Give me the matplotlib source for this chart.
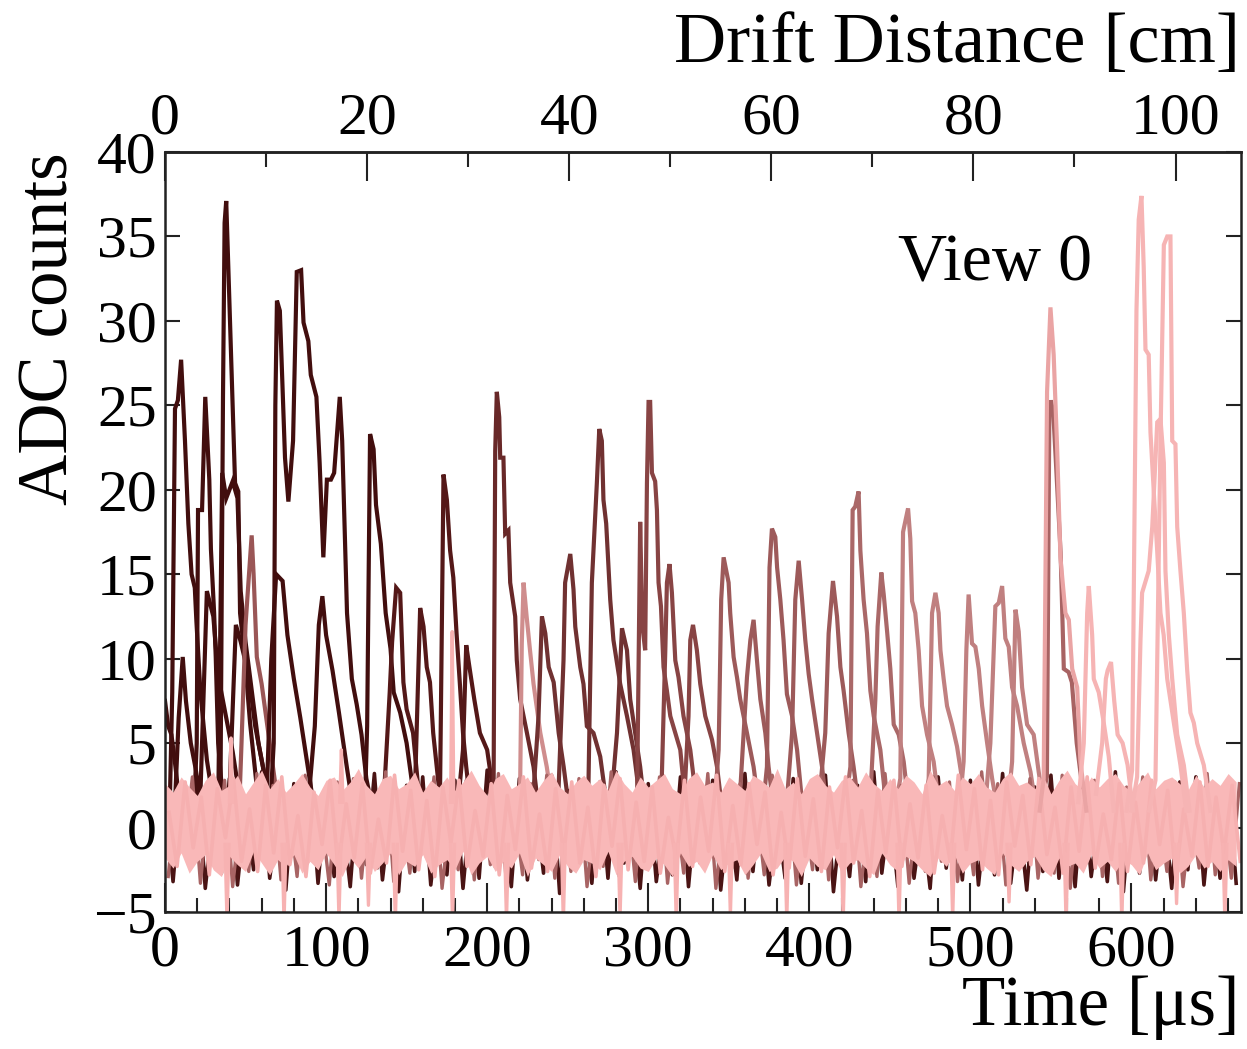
import numpy as np
import matplotlib
matplotlib.use("Agg")
import matplotlib.pyplot as plt

# ---------------- data ----------------
t_max = 668.0            # time axis range [us]
cm_per_us = 0.1594       # drift distance per microsecond (top axis)

# individual waveform pulses: time [us], ADC counts
w00_t = [0, 2, 4, 6, 9]
w00_v = [7.5, 6.0, 5.5, 4.0, 1.5]
w01_t = [3, 4.5, 6.2, 8, 10, 12.4, 14.5, 16.5, 18.5, 19.5, 22, 26, 30]
w01_v = [1.5, 8, 24.8, 25.3, 27.7, 22.9, 18, 15, 14.2, 12.2, 8, 4, 1.5]
w02_t = [6, 8.5, 11, 13, 16, 19, 23]
w02_v = [1.0, 6.5, 10.1, 7.5, 5.0, 3.5, 1.0]
w03_t = [18, 19.7, 20.5, 23, 25, 27.5, 28.5, 30.5, 31.5, 33, 36]
w03_v = [1, 5, 18.8, 18.8, 25.5, 20.6, 16.5, 12.7, 10.1, 5, 1.5]
w04_t = [22, 26, 30, 33, 37, 42, 46]
w04_v = [2, 14, 12.5, 9, 7, 4.5, 2]
w05_t = [33, 34.5, 36, 37, 38, 39.3, 41.4, 43.5, 45.5, 46.6, 49.5, 52.8, 58]
w05_v = [1, 3, 25.5, 35.8, 37.1, 33.2, 26.8, 20.4, 19.9, 12.7, 10.1, 6.2, 1.5]
w06_t = [33, 35.5, 38, 42, 45, 47, 50, 54, 58, 63]
w06_v = [1, 21, 19.5, 20.5, 19.5, 14, 11, 8, 5, 2.5]
w07_t = [40, 44, 47, 52, 56, 60, 64]
w07_v = [2, 12, 11, 9, 6, 4, 2]
w08_t = [46, 47.5, 50, 53.8, 55, 57, 60, 65, 70]
w08_v = [1, 5, 12, 17.3, 15, 10.1, 8.5, 5, 1.5]
w09_t = [65.5, 67.5, 68.5, 69.5, 71.3, 74.5, 76.6, 79.5, 81.8, 84.5, 86, 89, 90.5,
         94, 96, 98.3, 100.5, 103, 105, 108.5, 110, 111.8, 113, 116, 119, 122, 125, 129]
w09_v = [1.5, 5, 25, 31.2, 30.6, 21.9, 19.3, 22.9, 32.9, 33, 29.9, 28.8, 26.8,
         25.5, 21.6, 16, 20.6, 20.6, 21, 25.5, 22.9, 16.8, 12.7, 8.8, 7.3, 5.5, 2.9, 1]
w10_t = [63, 66, 69, 73, 76, 80, 84, 88, 92]
w10_v = [1.5, 10, 15, 14.6, 11.4, 8.8, 6.5, 4, 1.5]
w11_t = [89, 93, 95.5, 97.7, 100, 104, 108, 113, 117]
w11_v = [1.5, 6, 12, 13.7, 11.4, 9.3, 6.8, 3.5, 1]
w12_t = [124, 125.5, 127.3, 129.5, 131, 134, 137, 140, 142, 146, 150, 155]
w12_v = [1, 6, 23.3, 22.4, 19.1, 16.8, 12.7, 10.6, 8, 6.8, 5, 1.5]
w13_t = [136, 139.5, 141, 143.5, 146, 148, 150, 154, 156, 158]
w13_v = [2, 8, 11, 14.2, 13.9, 8.6, 7, 5.6, 3.6, 1.5]
w14_t = [154, 155.3, 158.4, 160.5, 162.5, 164.5, 166.5, 169.8, 172]
w14_v = [1, 2.6, 13, 11.9, 9.5, 8.6, 5.6, 2.6, 1]
w15_t = [169.5, 170.8, 172.9, 175, 177, 179, 181, 183, 185, 187, 190]
w15_v = [1, 2.6, 20.9, 19.4, 16.4, 14.8, 11.5, 8.6, 5.6, 3.6, 1]
w16_t = [182, 185, 187, 189, 192, 195.5, 200, 203, 206]
w16_v = [1.5, 4.6, 10.8, 9.5, 7.6, 5.6, 4.6, 2.6, 1]
w17_t = [202.5, 204, 205, 206, 207.5, 208.1, 210.1, 211.2, 213.2, 214.3, 217.4,
         218.4, 220.5, 224.7, 228.8, 232]
w17_v = [1, 2.6, 22.3, 25.8, 24.3, 21.9, 21.9, 17.4, 17.6, 14.5, 12.5,
         9.9, 7.6, 5.6, 3.6, 1]
w18_t = [219, 220.5, 221.5, 222.6, 224.5, 226.6, 228.8, 233, 237, 241]
w18_v = [1, 2.6, 10.9, 14.5, 12.5, 10.5, 8.5, 5.6, 3.6, 1]
w19_t = [228, 231.9, 234, 236.1, 238.2, 241.3, 244.4, 247.5, 251]
w19_v = [1, 6.6, 12.5, 11.5, 9.5, 8.6, 5.6, 3.6, 1]
w20_t = [244, 247.4, 248.4, 251.6, 253.6, 254.7, 257.8, 259.8, 261.9, 266, 270.2, 274]
w20_v = [1.5, 9.9, 14.5, 16.2, 14.1, 11.9, 9.5, 8.5, 6, 5.6, 4.2, 1.5]
w21_t = [261, 262.9, 265, 266, 268.1, 269.6, 271.2, 272.2, 273.9, 276.4, 278.4,
         282.6, 286.8, 290.9, 295]
w21_v = [1, 2.6, 14.5, 16.4, 20.4, 23.6, 22.9, 19.4, 18, 13.5, 11.1,
         8.5, 6.6, 4.6, 1.5]
w22_t = [277, 280.6, 283.7, 286.8, 288.8, 291.9, 295, 298]
w22_v = [1.5, 5.6, 11.8, 10.5, 7.6, 5.6, 3.6, 1]
w23_t = [293, 295, 296.3, 298.1, 299.2, 300.2, 301.2, 302.3, 304.3, 305.4, 306.4,
         307.9, 309.5, 311.6, 313.7, 316.8, 319.9, 323]
w23_v = [1, 18.1, 12, 10.5, 20.4, 25.2, 25.2, 21, 20.5, 18.8, 14.5,
         13.1, 9.5, 8.1, 6.6, 5.6, 4.6, 1.5]
w24_t = [308, 310.6, 311.6, 313.2, 314.7, 316.8, 318.8, 321.9, 326.1, 330]
w24_v = [1.5, 10.5, 14.5, 15.6, 13.9, 9.9, 8.9, 6.6, 4.6, 1.5]
w25_t = [322, 325, 326.1, 327.8, 330.2, 332.3, 335.4, 339.6, 342.7, 346]
w25_v = [1, 6.6, 11.1, 12, 10.5, 8.5, 6.6, 5.2, 3.6, 1]
w26_t = [341, 343.7, 345.3, 346.8, 349.9, 350.9, 353, 355.1, 357.1, 361.3, 365.4, 369]
w26_v = [1, 4.6, 13.5, 16, 14.5, 12.7, 10.1, 8.9, 7.6, 5.6, 3.6, 1]
w27_t = [357, 361.3, 363.4, 365.4, 367.5, 369.6, 372.7, 374.7, 378]
w27_v = [2, 8.9, 11.1, 12.3, 9.9, 7.6, 5.6, 3.6, 1]
w28_t = [371, 373.7, 375.3, 376.8, 378.9, 380, 382, 384, 386.1, 389.3, 392.4, 396]
w28_v = [1, 3.6, 15.4, 17.7, 17.2, 15.4, 13.5, 11.1, 7.9, 6.6, 4.6, 1]
w29_t = [386, 389.3, 391.3, 393.4, 395.5, 397.5, 399.6, 401.7, 404.8, 407.9, 411]
w29_v = [1.5, 5.6, 13.5, 15.8, 13.5, 11.1, 9.1, 7.6, 5.6, 3.6, 1]
w30_t = [406, 409.9, 412, 414.7, 417.2, 419.3, 421.3, 424.4, 427.5, 431]
w30_v = [1.5, 5.6, 11.5, 14.6, 12.5, 9.5, 8.1, 5.6, 3.6, 1]
w31_t = [422, 425.5, 426.9, 428.5, 430.6, 431.7, 433.7, 435.8, 437.9, 440, 444.1, 448]
w31_v = [1, 3.6, 18.8, 19, 19.9, 16.4, 13.5, 11.5, 8.1, 6.6, 4.6, 1]
w32_t = [438, 441, 442.4, 444.7, 446.2, 448.3, 450.3, 452.4, 455.5, 458.6, 462]
w32_v = [2, 7.6, 11.9, 15.1, 13.8, 11.6, 9.4, 6.1, 5.5, 3.9, 1]
w33_t = [453, 456.5, 458.2, 461.3, 462.7, 463.8, 465.8, 467.9, 470, 473.1, 477.2, 481]
w33_v = [1, 2.9, 17.5, 18.9, 17.1, 13.4, 12.7, 10.5, 7.2, 5.5, 3.9, 1]
w34_t = [471, 474.1, 476.2, 478.3, 480.3, 481.4, 483.4, 485.5, 488.6, 491.7, 494.8, 498]
w34_v = [1, 2.9, 12.7, 13.9, 12.7, 10.5, 8.8, 7.2, 6.1, 4.8, 2.9, 1]
w35_t = [493, 495.8, 497.5, 498.9, 501, 503.1, 505.2, 507.3, 510.4, 513.5, 517]
w35_v = [1, 3.9, 10.5, 13.8, 10.9, 10.7, 9.4, 7.2, 5, 2.9, 1]
w36_t = [509, 512.4, 515.5, 517.6, 519.7, 521.7, 523.8, 525.9, 529, 533.1, 537.3, 541]
w36_v = [1, 5, 13.1, 13.3, 14.3, 11.2, 10.7, 8.3, 7.2, 5, 3.3, 1]
w37_t = [523, 525.9, 528, 530, 532.1, 535.2, 539.3, 542.4, 546]
w37_v = [1, 3.9, 12.9, 11.6, 8.3, 6.1, 5.5, 3.3, 1]
w38_t = [543, 547.5, 549, 550, 551.5, 553, 556, 558, 561, 563, 566, 570]
w38_v = [1, 3, 24.5, 25.3, 24.5, 21.8, 16.3, 9.4, 9.2, 8.6, 5, 2]
w39_t = [543, 545.5, 547.6, 549.7, 551.7, 553.8, 555.9, 559, 561.1, 563.2, 566.3, 568.3, 572]
w39_v = [1, 2.9, 25.8, 30.8, 28, 22.6, 16, 12.7, 12.3, 9.4, 8.3, 3.9, 1]
w40_t = [567, 570.4, 572.5, 573.5, 575.6, 576.6, 579.7, 582.8, 585.9, 589]
w40_v = [1.5, 5, 12.7, 14.3, 11.4, 8.8, 8, 6.2, 4.2, 1]
w41_t = [578, 581.8, 584.1, 585.2, 587.3, 589.3, 591.4, 594.5, 597.6, 601]
w41_v = [2, 5, 8.8, 9.3, 9.8, 7.5, 5.5, 5, 3.7, 1]
w42_t = [597, 600.4, 603.1, 604.5, 606.2, 607.6, 608.7, 610.7, 611.8, 613.9, 615.9,
         618, 620, 622.2, 626.3, 630.4, 634]
w42_v = [1, 3.4, 30.6, 36, 37.4, 33.2, 28.3, 28, 23.4, 19.8, 16.5,
         12.7, 11.4, 8.8, 6.2, 3.7, 1]
w43_t = [600, 603.5, 605.6, 606.6, 610.7, 612.9, 616, 618, 620.1, 621.1, 623.2,
         625.3, 628.4, 632.5, 636]
w43_v = [1, 3, 11.1, 13.9, 15.2, 17.8, 24, 24.2, 21.6, 15.2, 11.4,
         8.8, 5.5, 3.7, 1]
w44_t = [611, 614.9, 618, 620.1, 622.2, 624.2, 625.3, 627.3, 628.4, 630.4, 632.5,
         634.6, 636.6, 638.7, 640.8, 644.9, 649]
w44_v = [1, 2.8, 22.9, 34.5, 35, 35, 22.9, 22.7, 17.8, 15.2, 12.7,
         9.3, 6.8, 6.2, 5, 3.7, 1]

waveforms = [(w00_t, w00_v), (w01_t, w01_v), (w02_t, w02_v), (w03_t, w03_v),
             (w04_t, w04_v), (w05_t, w05_v), (w06_t, w06_v), (w07_t, w07_v),
             (w08_t, w08_v), (w09_t, w09_v), (w10_t, w10_v), (w11_t, w11_v),
             (w12_t, w12_v), (w13_t, w13_v), (w14_t, w14_v), (w15_t, w15_v),
             (w16_t, w16_v), (w17_t, w17_v), (w18_t, w18_v), (w19_t, w19_v),
             (w20_t, w20_v), (w21_t, w21_v), (w22_t, w22_v), (w23_t, w23_v),
             (w24_t, w24_v), (w25_t, w25_v), (w26_t, w26_v), (w27_t, w27_v),
             (w28_t, w28_v), (w29_t, w29_v), (w30_t, w30_v), (w31_t, w31_v),
             (w32_t, w32_v), (w33_t, w33_v), (w34_t, w34_v), (w35_t, w35_v),
             (w36_t, w36_v), (w37_t, w37_v), (w38_t, w38_v), (w39_t, w39_v),
             (w40_t, w40_v), (w41_t, w41_v), (w42_t, w42_v), (w43_t, w43_v),
             (w44_t, w44_v)]

# baseline noise (sampled every 5 us), estimated from the noise band
noise_step = 5.0
pink_hi = [2.6, 2.1, 3.0, 2.4, 1.9, 2.8, 3.3, 2.2, 2.5, 3.1,
           2.0, 2.7, 3.4, 2.3, 2.9, 2.1, 2.6, 3.2, 2.4, 1.9,
           2.8, 3.0, 2.2, 2.7, 3.5, 2.5, 2.0, 2.9, 3.1, 2.3,
           2.6, 3.3, 2.1, 2.8, 2.4, 3.0, 2.2, 2.7, 3.4, 2.5,
           1.9, 2.9, 3.2, 2.3, 2.6, 3.0, 2.1, 2.8, 3.3, 2.4,
           2.0, 2.7, 3.1, 2.5, 2.9, 2.2, 3.4, 2.6, 2.1, 3.0,
           2.4, 2.8, 3.2, 2.3, 2.0, 2.9, 3.3, 2.5, 2.7, 2.1,
           3.0, 2.6, 2.2, 3.1, 2.8, 2.4, 3.5, 2.3, 2.7, 2.0,
           2.9, 3.2, 2.5, 2.1, 2.8, 3.0, 2.4, 3.3, 2.6, 2.2,
           2.9, 2.3, 3.1, 2.7, 2.0, 3.4, 2.5, 2.8, 2.2, 3.0,
           2.6, 3.2, 2.4, 2.1, 2.9, 3.3, 2.5, 2.7, 2.3, 3.1,
           2.0, 2.8, 3.4, 2.6, 2.2, 3.0, 2.4, 2.9, 3.2, 2.5,
           2.1, 2.7, 3.3, 2.3, 2.8, 3.0, 2.6, 2.2, 3.1, 2.4,
           2.9, 2.5, 3.2, 2.7]
pink_lo = [-1.8, -2.4, -1.5, -2.7, -2.0, -1.6, -2.5, -2.9, -1.7, -2.2,
           -2.6, -1.4, -2.1, -2.8, -1.9, -2.3, -1.6, -2.7, -2.0, -2.5,
           -1.5, -2.2, -2.9, -1.8, -2.4, -1.7, -2.6, -2.1, -1.5, -2.8,
           -2.0, -2.3, -1.6, -2.7, -2.2, -1.9, -2.5, -1.4, -2.8, -2.1,
           -1.7, -2.6, -2.0, -2.4, -1.5, -2.9, -1.8, -2.2, -2.6, -1.6,
           -2.3, -2.7, -1.9, -2.1, -2.5, -1.4, -2.8, -2.0, -1.7, -2.4,
           -2.6, -1.8, -2.2, -2.9, -1.5, -2.3, -2.0, -2.7, -1.6, -2.5,
           -2.1, -1.9, -2.8, -2.2, -1.5, -2.6, -2.4, -1.7, -2.0, -2.9,
           -1.8, -2.3, -2.5, -1.6, -2.7, -2.1, -1.9, -2.4, -2.8, -1.5,
           -2.2, -2.6, -1.7, -2.0, -2.5, -2.9, -1.8, -2.3, -1.6, -2.7,
           -2.1, -1.9, -2.4, -2.8, -1.5, -2.2, -2.6, -2.0, -1.7, -2.5,
           -2.9, -1.8, -2.3, -2.1, -2.7, -1.6, -2.4, -2.0, -2.6, -1.9,
           -2.2, -2.8, -1.5, -2.5, -2.1, -1.8, -2.7, -2.3, -1.6, -2.4,
           -2.0, -2.6, -1.9, -2.3]
dark_noise = [1.5, -3.2, 2.4, -2.0, 3.0, -3.6, 0.8, -2.7, 2.9, -3.4,
              1.2, -2.5, 3.3, -3.0, 0.5, -3.7, 2.6, -1.8, 3.1, -3.3,
              1.9, -2.9, 0.7, -3.5, 2.7, -2.2, 3.2, -3.1, 1.1, -3.8,
              2.5, -2.6, 3.0, -3.4, 0.9, -2.8, 2.8, -3.6, 1.6, -3.0,
              3.4, -2.3, 0.6, -3.5, 2.9, -3.1, 1.3, -2.7, 3.1, -3.9,
              2.2, -2.5, 0.8, -3.3, 2.7, -3.0, 3.3, -2.1, 1.4, -3.6,
              2.6, -3.2, 0.5, -2.8, 3.0, -3.5, 1.8, -2.4, 2.8, -3.7,
              1.0, -3.1, 3.2, -2.6, 2.3, -3.4, 0.7, -3.0, 2.9, -3.3,
              1.7, -2.5, 3.1, -3.8, 0.9, -2.9, 2.5, -3.2, 3.3, -2.7,
              1.2, -3.5, 2.7, -3.0, 0.6, -3.6, 3.0, -2.4, 1.9, -3.1,
              2.8, -3.4, 1.1, -2.8, 3.2, -3.3, 0.8, -3.7, 2.4, -2.6,
              3.1, -3.0, 1.5, -3.5, 2.6, -2.9, 0.7, -3.2, 3.3, -3.8,
              2.0, -2.7, 2.9, -3.1, 1.3, -3.6, 2.7, -2.5, 3.0, -3.4,
              1.6, -3.0, 2.8, -3.3]
rose_noise = [-2.9, 2.2, -1.4, 3.0, -3.3, 1.6, -2.2, 2.8, -3.5, 0.9,
              -2.6, 3.2, -1.8, 2.5, -3.1, 1.3, -2.9, 3.1, -2.0, 0.8,
              -3.4, 2.7, -1.5, 2.9, -3.0, 1.9, -2.4, 3.3, -3.2, 1.1,
              -2.7, 2.4, -1.7, 3.0, -3.6, 0.7, -2.5, 2.8, -3.1, 1.7,
              -2.2, 3.2, -3.4, 1.0, -2.8, 2.6, -1.9, 3.1, -3.0, 1.4,
              -2.6, 2.9, -3.5, 0.9, -2.3, 3.3, -2.9, 1.8, -3.2, 2.5,
              -1.6, 3.0, -3.3, 1.2, -2.7, 2.7, -2.1, 3.2, -3.6, 0.8,
              -2.4, 2.6, -3.0, 1.5, -2.8, 3.1, -1.8, 2.4, -3.4, 1.1,
              -2.5, 3.0, -3.1, 1.9, -2.2, 2.8, -3.5, 0.7, -2.9, 3.2,
              -1.7, 2.5, -3.3, 1.3, -2.6, 3.0, -2.0, 2.7, -3.2, 1.0,
              -2.8, 3.3, -1.5, 2.6, -3.4, 1.6, -2.3, 2.9, -3.0, 0.9,
              -2.7, 3.1, -3.6, 1.4, -2.1, 2.8, -2.9, 1.7, -3.3, 2.4,
              -1.9, 3.0, -3.1, 1.2, -2.6, 2.7, -3.5, 0.8, -2.4, 3.2,
              -2.8, 1.5, -3.0, 2.6]
pink_noise = [0.9, -2.3, 2.7, -1.2, 1.8, -2.8, 2.3, -0.6, 2.9, -2.0,
              1.1, -2.6, 2.5, -1.5, 3.0, -2.2, 0.7, -2.9, 2.1, -1.0,
              2.8, -2.4, 1.4, -1.8, 2.6, -2.7, 0.5, -2.1, 3.1, -1.4,
              2.2, -2.5, 1.6, -2.9, 2.4, -0.9, 2.8, -2.3, 1.0, -1.7,
              2.6, -2.8, 1.9, -1.3, 3.0, -2.4, 0.8, -2.6, 2.3, -1.6,
              2.7, -2.1, 1.2, -2.9, 2.5, -1.1, 2.9, -2.5, 1.5, -2.0,
              2.4, -2.7, 0.6, -1.9, 2.8, -2.3, 1.8, -1.4, 3.1, -2.6,
              1.3, -2.2, 2.6, -1.0, 2.1, -2.8, 0.9, -2.4, 2.9, -1.7,
              1.7, -2.6, 2.4, -1.2, 3.0, -2.1, 1.0, -2.9, 2.2, -1.5,
              2.8, -2.3, 1.4, -1.8, 2.5, -2.7, 0.7, -2.0, 3.1, -1.3,
              2.3, -2.5, 1.6, -2.8, 2.7, -1.1, 1.9, -2.2, 2.9, -1.6,
              1.2, -2.7, 2.4, -1.4, 3.0, -2.4, 0.8, -1.9, 2.6, -2.6,
              1.5, -2.1, 2.8, -1.0, 2.2, -2.9, 1.1, -1.7, 2.7, -2.3,
              1.8, -1.5, 2.5, -2.0]

# periodic narrow spikes on the lightest channel
spike_t = [38.5, 73.9, 108, 126.3, 143, 178.5, 212, 247.3, 282.5, 317.4,
           351, 386, 421, 455.7, 489, 524, 559.4, 594, 628, 658]
spike_v = [-5.6, -5.6, -5.4, -4.6, -5.6, -5.6, -5.5, -5.6, -5.3, -5.6,
           -5.2, -5.5, -5.6, -5.6, -5.4, -4.4, -5.6, -5.6, -4.5, -5.6]
upspike_t = [41, 109.5, 178.3]
upspike_v = [5.3, 4.6, 11.6]

x_ticks = [0, 100, 200, 300, 400, 500, 600]
y_ticks = [-5, 0, 5, 10, 15, 20, 25, 30, 35, 40]
top_ticks = [0, 20, 40, 60, 80, 100]

# ---------------- style ----------------
wave_colors = (['#420e0e'] * 8 + ['#9a5656'] + ['#420e0e'] * 4 +
               ['#541818'] * 4 +
               ['#682828', '#cf8d8d', '#703131', '#703131', '#703131', '#703131'] +
               ['#884444'] * 3 + ['#9d5a5a'] * 5 + ['#aa6868'] * 2 +
               ['#c08080'] * 5 + ['#a86363', '#eaa4a4'] + ['#f6b4b4'] * 5)
n_pink_top = 6  # last waveforms drawn above the noise band

plt.rcParams['font.family'] = ['Liberation Serif', 'DejaVu Serif']

W, H = 1247, 1049
fig = plt.figure(figsize=(W / 100, H / 100), dpi=100)
L, R, T, B = 165, 1241, 152, 912
ax = fig.add_axes([L / W, 1 - B / H, (R - L) / W, (B - T) / H])
ax.set_xlim(0, t_max)
ax.set_ylim(-5, 40)

noise_t = np.arange(len(pink_hi)) * noise_step
lw = 3.0

ax.plot(noise_t, dark_noise, color='#4a1414', lw=2.6, zorder=1.5)
n_w = len(waveforms)
for i, ((tt, vv), c) in enumerate(zip(waveforms, wave_colors)):
    z = 2 + 0.01 * i if i < n_w - n_pink_top else 3.6 + 0.01 * i
    ax.plot(tt, vv, color=c, lw=lw, zorder=z, solid_joinstyle='miter')
ax.plot(noise_t + 2.0, rose_noise, color='#a86464', lw=2.4, zorder=2.8)
ax.fill_between(noise_t, pink_lo, pink_hi, color='#f9b8b8', lw=0, zorder=3)
ax.plot(noise_t + 2.5, pink_noise, color='#f6b0b0', lw=2.6, zorder=3.1)
for st, sv in zip(spike_t, spike_v):
    ax.plot([st - 1.2, st, st + 1.2], [-1.0, sv, -1.0], color='#f7b2b2',
            lw=2.4, zorder=3.2)
for st, sv in zip(upspike_t, upspike_v):
    ax.plot([st - 1.0, st, st + 1.0], [1.5, sv, 1.5], color='#f7b2b2',
            lw=2.4, zorder=3.2)

# axes styling (ROOT-like)
frame_c = '#222222'
for sp in ax.spines.values():
    sp.set_linewidth(1.8)
    sp.set_color(frame_c)
    sp.set_zorder(10)

ax.set_xticks(x_ticks)
ax.set_xticks(np.arange(0, t_max, 20), minor=True)
ax.set_yticks(y_ticks)
ax.set_yticklabels([f"{v}".replace('-', '\u2212') for v in y_ticks])
ax.tick_params(axis='x', which='major', direction='in', length=21, width=1.5,
               color=frame_c, labelsize=43, pad=9, top=False, bottom=True)
ax.tick_params(axis='x', which='minor', direction='in', length=10, width=1.5,
               color=frame_c, top=False, bottom=True)
ax.tick_params(axis='y', which='major', direction='in', length=11, width=1.5,
               color=frame_c, labelsize=43, pad=6, left=True, right=True)

sec = ax.secondary_xaxis('top', functions=(lambda t: t * cm_per_us,
                                            lambda d: d / cm_per_us))
sec.set_xticks(top_ticks)
sec.set_xticks(np.arange(0, t_max * cm_per_us, 10), minor=True)
sec.tick_params(axis='x', which='major', direction='in', length=21, width=1.5,
                color=frame_c, labelsize=43, pad=4)
sec.tick_params(axis='x', which='minor', direction='in', length=11, width=1.5,
                color=frame_c)
sec.spines['top'].set_linewidth(1.8)
sec.spines['top'].set_color(frame_c)

fig.text((R - 1) / W, 1 - 1008 / H, 'Time [μs]', ha='right', va='center', fontsize=51)
fig.text((R - 1) / W, 1 - 45 / H, 'Drift Distance [cm]', ha='right', va='center',
         fontsize=52)
fig.text(50 / W, 1 - 152 / H, 'ADC counts', ha='center', va='top', rotation=90,
         fontsize=51)
ax.text(0.771, 0.853, 'View 0', transform=ax.transAxes, ha='center', va='center',
        fontsize=49, zorder=12)

fig.savefig('out.png', dpi=100)
